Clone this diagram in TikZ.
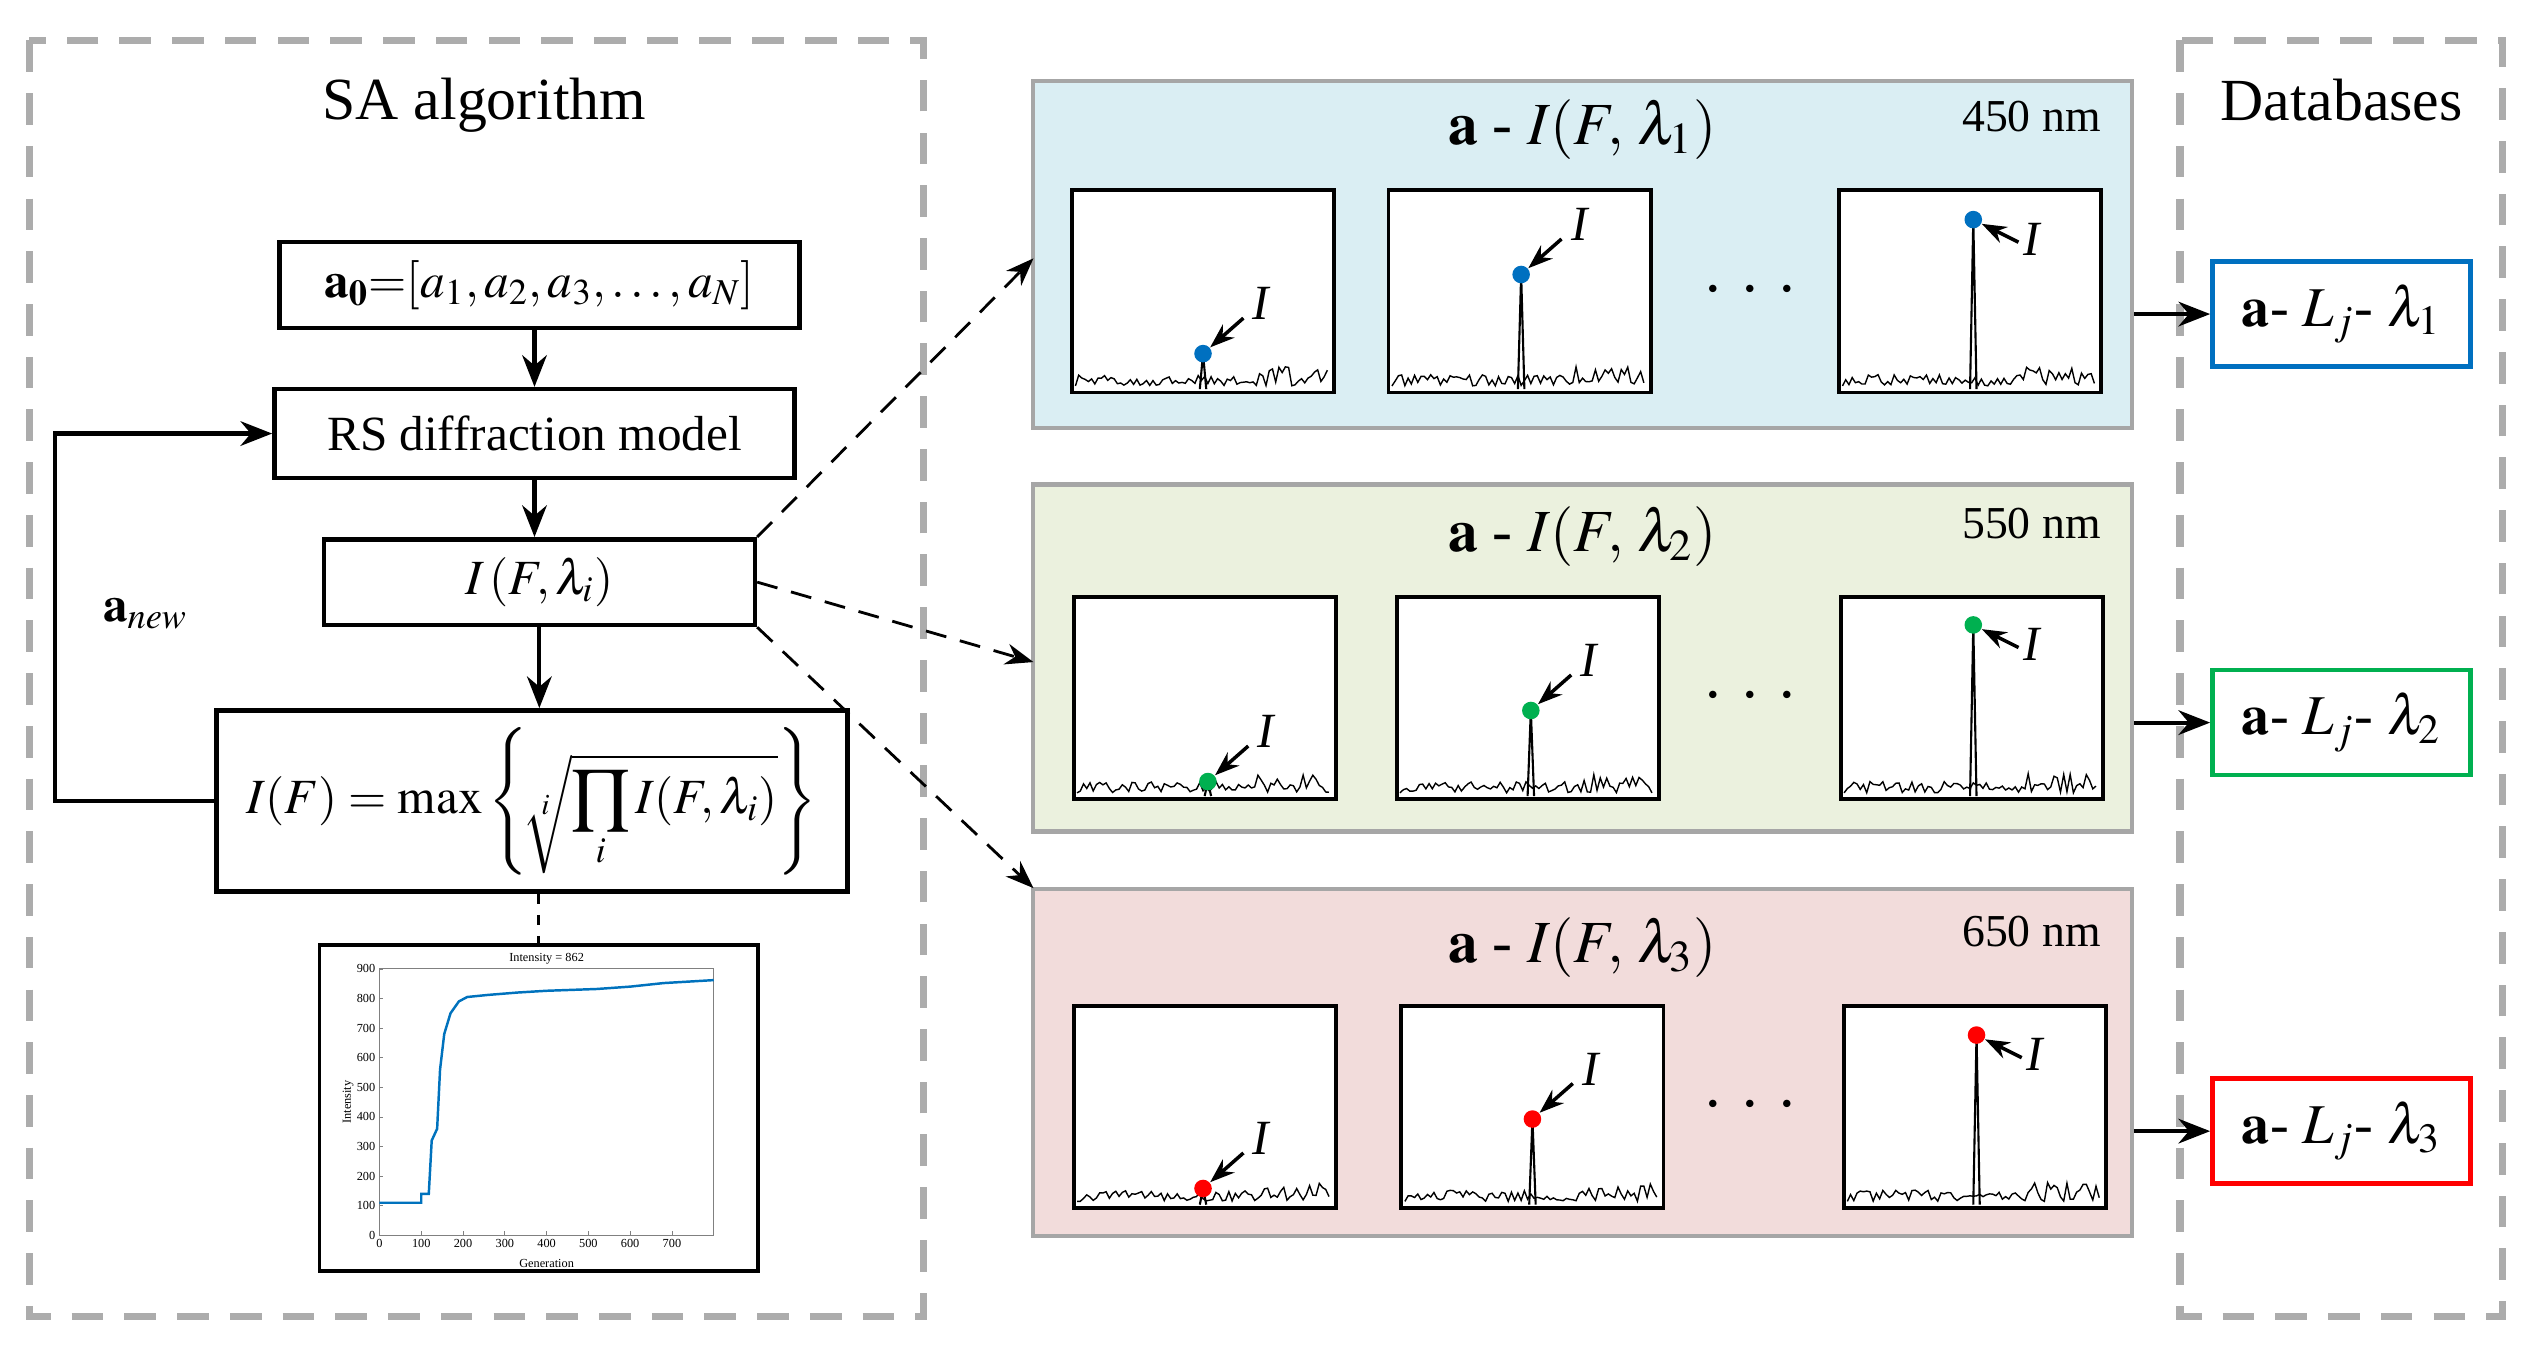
\documentclass[tikz,border=0pt]{standalone}
\usepackage{mathptmx}
\usepackage{fontspec}
\setmainfont{Liberation Serif}
\usetikzlibrary{arrows.meta}
\definecolor{pblue}{HTML}{DAEEF3}
\definecolor{pgreen}{HTML}{EBF1DE}
\definecolor{ppink}{HTML}{F2DCDB}
\definecolor{dblue}{HTML}{0070C0}
\definecolor{dgreen}{HTML}{00B050}
\definecolor{dred}{HTML}{FF0000}
\definecolor{curve}{HTML}{0072BD}
\tikzset{
 box/.style={draw,line width=1.3pt,inner sep=0pt,font=\fontsize{14}{16}\selectfont},
 arr/.style={-{Stealth[length=9pt,width=7pt]},line width=1.2pt},
 darr/.style={-{Stealth[length=8pt,width=6pt]},dashed,line width=0.8pt,dash pattern=on 6pt off 4pt},
 panel/.style={draw=gray!70,line width=1.2pt,minimum width=10.98cm,minimum height=3.47cm},
 outer/.style={draw=gray!65,line width=2pt,dash pattern=on 9pt off 6pt},
 db/.style={draw,line width=1.3pt,minimum width=2.58cm,minimum height=1.05cm,fill=white,font=\fontsize{16}{18}\selectfont},
 sp/.style={draw,line width=1.1pt,minimum width=2.62cm,minimum height=2.02cm,fill=white,inner sep=0pt},
 ttl/.style={font=\fontsize{17}{19}\selectfont},
 nm/.style={font=\fontsize{13}{15}\selectfont},
 lbl/.style={font=\itshape\fontsize{14}{16}\selectfont},
}
% #1 name, #2 left x, #3 top y, #4 peak x, #5 dot y, #6 color, #7 type (a or b), #8 seed
\newcommand{\subplt}[8]{%
 \node[sp] (#1) at (#2+81,#3+62.5) {};
 \pgfmathsetseed{#8}
 \draw[line width=0.4pt] (#2+2,#3+121) \foreach \k in {1,...,78}{ -- (#2+2+\k*2,{#3+121-abs(rnd)*(\k>55?12:7)}) };
 \draw[line width=0.6pt] (#4-2,#3+123) -- (#4,#5) -- (#4+2,#3+123);
 \node[circle,fill=#6,inner sep=0pt,minimum size=5pt] (#1d) at (#4,#5) {};
 \if#7a
  \coordinate (#1s) at (#4+25,#5-22);
  \draw[-{Stealth[length=7pt,width=5pt]},line width=1pt] (#1s) -- (#1d);
  \node[lbl] at (#4+36,#5-31) {I};
 \else
  \coordinate (#1s) at (#4+28,#5+14);
  \draw[-{Stealth[length=7pt,width=5pt]},line width=1pt] (#1s) -- (#1d);
  \node[lbl] at (#4+36,#5+12) {I};
 \fi
}
\begin{document}
\begin{tikzpicture}[x=0.01615cm,y=-0.01615cm]
\useasboundingbox (0,0) rectangle (1568,834.7);
% outer dashed boxes
\draw[outer] (18,25) rectangle (572,815);
\draw[outer] (1350,25) rectangle (1550,815);
\node[font=\fontsize{17}{19}\selectfont] (sa) at (300,65) {SA algorithm};
\node[font=\fontsize{17}{19}\selectfont] (dbt) at (1450,62) {Databases};
% flow chart
\node[box,minimum width=5.2cm,minimum height=0.856cm] (a0) at (334,176.5) {$\mathbf{a_0}{=}[a_1,a_2,a_3,\ldots,a_N]$};
\node[box,minimum width=5.2cm,minimum height=0.888cm] (rs) at (331,268.5) {RS diffraction model};
\node[box,minimum width=4.31cm,minimum height=0.856cm] (ifl) at (334,360.5) {$I\left(F,\lambda_i\right)$};
\node[box,minimum width=6.31cm,minimum height=1.81cm] (mx) at (329.5,496) {$\displaystyle I(F)=\max\left\{\sqrt[i]{\prod_i I(F,\lambda_i)}\right\}$};
\draw[arr] (a0.south -| rs.north) -- (rs.north);
\draw[arr] (rs.south) -- (rs.south |- ifl.north);
\draw[arr] (ifl.south) -- (mx.north -| ifl.south);
\coordinate (fb1) at (34,496);
\coordinate (fb2) at (34,268.5);
\draw[arr] (mx.west) -- (fb1) -- (fb2) -- (rs.west);
\node[font=\fontsize{14}{16}\selectfont] (anew) at (90,380) {$\mathbf{a}_{\mathit{new}}$};
% convergence plot
\node[draw,line width=1.1pt,minimum width=4.38cm,minimum height=3.26cm,inner sep=0pt] (cp) at (333.5,686) {};
\draw[dashed,line width=0.8pt] (mx.south -| cp.north) -- (cp.north);
\begin{scope}[shift={(235,765)},xscale=0.25875,yscale=-0.18333,font=\fontsize{3.5}{4}\selectfont]
 \draw[gray,line width=0.3pt] (0,0) rectangle (800,900);
 \foreach \v in {0,100,...,900}{\draw[gray,line width=0.2pt] (0,\v) -- (8,\v); \node[anchor=east,inner sep=1pt] at (0,\v) {\v};}
 \foreach \g in {0,100,...,700}{\draw[gray,line width=0.2pt] (\g,0) -- (\g,15); \node[anchor=north,inner sep=1pt] at (\g,0) {\g};}
 \node[anchor=south,inner sep=1pt] at (400,900) {Intensity = 862};
 \node[anchor=north] at (400,-40) {Generation};
 \node[rotate=90] at (-75,450) {Intensity};
 \draw[curve,line width=0.7pt] (0,110) -- (100,110) -- (100,140) -- (118,140) -- (125,320) -- (138,360) -- (145,560) -- (155,680) -- (170,750) -- (190,790) -- (210,805) -- (260,812) -- (330,820) -- (400,826) -- (520,832) -- (600,840) -- (680,852) -- (800,862);
\end{scope}
% panels
\node[panel,fill=pblue] (p1) at (980,157.5) {};
\node[panel,fill=pgreen] (p2) at (980,407.5) {};
\node[panel,fill=ppink] (p3) at (980,658) {};
\node[ttl] (t1) at (980,80) {$\mathbf{a}$ - $I(F,\,\lambda_1)$};
\node[ttl] (t2) at (980,332) {$\mathbf{a}$ - $I(F,\,\lambda_2)$};
\node[ttl] (t3) at (980,587) {$\mathbf{a}$ - $I(F,\,\lambda_3)$};
\node[nm] (n1) at (1258,72) {450 nm};
\node[nm] (n2) at (1258,324) {550 nm};
\node[nm] (n3) at (1258,577) {650 nm};
\subplt{s11}{664}{118}{745}{219}{dblue}{a}{11}
\subplt{s12}{860}{118}{942}{170}{dblue}{a}{12}
\subplt{s13}{1139}{118}{1222}{136}{dblue}{b}{13}
\subplt{s21}{665}{370}{748}{484}{dgreen}{a}{21}
\subplt{s22}{865}{370}{948}{440}{dgreen}{a}{22}
\subplt{s23}{1140}{370}{1222}{387}{dgreen}{b}{23}
\subplt{s31}{665}{623}{745}{736}{dred}{a}{31}
\subplt{s32}{868}{623}{949}{693}{dred}{a}{32}
\subplt{s33}{1142}{623}{1224}{641}{dred}{b}{33}
\foreach \yy in {180,432,685}{\node[font=\fontsize{20}{20}\selectfont] at (1084,\yy) {$\cdot\,\cdot\,\cdot$};}
% dashed connectors
\coordinate (e1) at (640,160);
\coordinate (e2) at (640,410);
\coordinate (e3) at (640,550);
\draw[darr] (ifl.north east) -- (e1);
\draw[darr] (ifl.east) -- (e2);
\draw[darr] (ifl.south east) -- (e3);
% database boxes
\node[db,draw=dblue] (d1) at (1450,194.5) {$\mathbf{a}$- $L_j$- $\lambda_1$};
\node[db,draw=dgreen] (d2) at (1450,447.5) {$\mathbf{a}$- $L_j$- $\lambda_2$};
\node[db,draw=dred] (d3) at (1450,700.5) {$\mathbf{a}$- $L_j$- $\lambda_3$};
\draw[arr] (p1.east |- d1.west) -- (d1.west);
\draw[arr] (p2.east |- d2.west) -- (d2.west);
\draw[arr] (p3.east |- d3.west) -- (d3.west);
\end{tikzpicture}
\end{document}
